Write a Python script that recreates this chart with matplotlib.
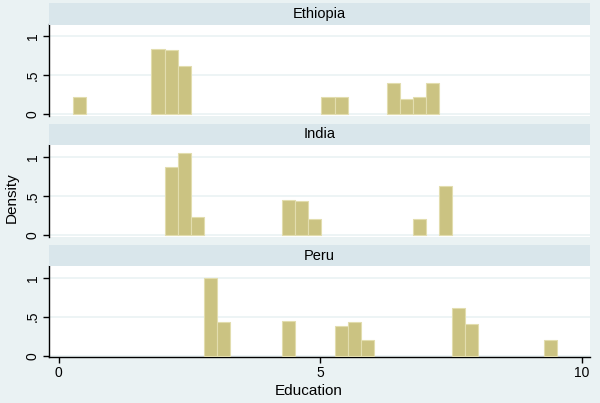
import matplotlib
matplotlib.use("Agg")
import matplotlib.pyplot as plt
from matplotlib.patches import Rectangle

plt.rcParams["font.family"] = ["Liberation Sans", "DejaVu Sans"]

countries = ["Ethiopia", "India", "Peru"]
bin_start = 0.275
bin_width = 0.25
# bin indices and densities for each country
eth_bins = [0, 6, 7, 8, 19, 20, 24, 25, 26, 27]
eth_dens = [0.217, 0.838, 0.817, 0.62, 0.217, 0.217, 0.396, 0.19, 0.217, 0.396]
ind_bins = [7, 8, 9, 16, 17, 18, 26, 28]
ind_dens = [0.87, 1.052, 0.233, 0.453, 0.433, 0.21, 0.21, 0.632]
per_bins = [10, 11, 16, 20, 21, 22, 29, 30, 36]
per_dens = [0.995, 0.427, 0.448, 0.384, 0.427, 0.2, 0.61, 0.405, 0.2]
y_ticks = [0, 0.5, 1]
y_ticklabels = ["0", ".5", "1"]
x_ticks = [0, 5, 10]
x_ticklabels = ["0", "5", "10"]

data = [(eth_bins, eth_dens), (ind_bins, ind_dens), (per_bins, per_dens)]

W, H = 600, 403
fig = plt.figure(figsize=(W / 100, H / 100), dpi=100)
fig.patch.set_facecolor("#EAF2F3")

bg = "#EAF2F3"
head_col = "#D9E6EB"
bar_col = "#CBC382"
bar_edge = "#E2DDAE"

left_px, right_px = 49.3, 589.5
plot_tops = [24.5, 145.0, 266.0]
plot_bots = [115.8, 236.8, 357.3]
head_h = 21.0

def fx(px):
    return px / W

def fy(py):
    return 1 - py / H

axes = []
for i, (name, (bins, dens)) in enumerate(zip(countries, data)):
    top, bot = plot_tops[i], plot_bots[i]
    ax = fig.add_axes([fx(left_px), fy(bot), fx(right_px) - fx(left_px), (bot - top) / H])
    ax.set_facecolor("white")
    lefts = [bin_start + b * bin_width for b in bins]
    ax.bar(lefts, dens, width=bin_width, align="edge", color=bar_col,
           edgecolor=bar_edge, linewidth=0.8, zorder=3)
    ax.set_xlim(-0.178, 10.15)
    ax.set_ylim(-0.02, 1.15)
    for yv in y_ticks:
        ax.axhline(yv, color=bg, linewidth=1.2, zorder=1)
    ax.set_yticks(y_ticks)
    ax.set_yticklabels(y_ticklabels, rotation=90, va="center", fontsize=10)
    ax.tick_params(axis="y", length=4, width=1, pad=3, colors="black")
    for s in ["top", "right"]:
        ax.spines[s].set_visible(False)
    ax.spines["left"].set_linewidth(1)
    if i < 2:
        ax.spines["bottom"].set_visible(False)
        ax.set_xticks([])
    else:
        ax.spines["bottom"].set_linewidth(1)
        ax.set_xticks(x_ticks)
        ax.set_xticklabels(x_ticklabels, fontsize=10)
        ax.tick_params(axis="x", length=4, width=1, pad=2)
    # header band
    htop = top - head_h
    fig.patches.append(Rectangle((fx(left_px), fy(top)), fx(right_px) - fx(left_px),
                                 head_h / H, transform=fig.transFigure,
                                 facecolor=head_col, edgecolor="none", zorder=0))
    fig.text(fx((left_px + right_px) / 2), fy(htop + head_h / 2), name,
             ha="center", va="center", fontsize=10.5)
    axes.append(ax)

fig.text(fx(309), fy(391), "Education", ha="center", va="center", fontsize=11)
fig.text(fx(12), fy(198), "Density", rotation=90, ha="center", va="center", fontsize=11)

fig.savefig("out.png", dpi=100, facecolor=fig.get_facecolor())
